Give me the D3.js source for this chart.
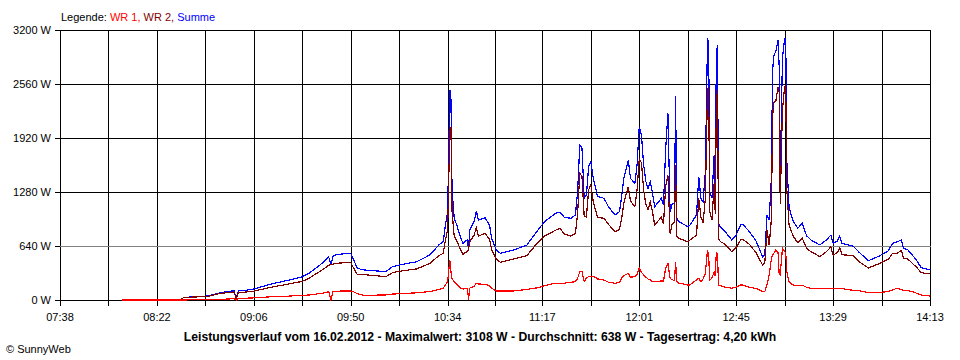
<!DOCTYPE html>
<html>
<head>
<meta charset="utf-8">
<script src="https://cdn.jsdelivr.net/npm/d3@7"></script>
<style>
  html, body { margin: 0; padding: 0; background: #ffffff; }
  svg { display: block; }
  text { font-family: "Liberation Sans", Arial, sans-serif; }
</style>
</head>
<body>
<svg id="chart" width="960" height="360"></svg>
<script>
// ---------- data ----------
const xTickLabels = ["07:38","08:22","09:06","09:50","10:34","11:17","12:01","12:45","13:29","14:13"];
const yTickValues = [0, 640, 1280, 1920, 2560, 3200];
const averageWatt = 638;
const legendItems = ["WR 1", "WR 2", "Summe"];
const captionText = "Leistungsverlauf vom 16.02.2012 - Maximalwert: 3108 W - Durchschnitt: 638 W - Tagesertrag: 4,20 kWh";

const times = [
 "08:06","08:33","08:34","08:37","08:45","08:51","08:57","08:58","08:59","09:01",
 "09:06","09:15","09:21","09:28","09:31","09:37","09:40","09:41","09:42","09:44",
 "09:50","09:51","09:53","09:56","10:06","10:09","10:12","10:20","10:26","10:30",
 "10:32","10:33","10:34","10:35","10:35:30","10:36","10:37","10:38","10:40","10:41",
 "10:42","10:43","10:43:30","10:44","10:46","10:47","10:48","10:51","10:53","10:54",
 "10:56","10:58","11:04","11:10","11:15","11:18","11:23","11:25","11:27","11:30",
 "11:32","11:33","11:34","11:35","11:36","11:37","11:38","11:39","11:40","11:41",
 "11:42","11:45","11:47","11:50","11:52","11:53","11:54","11:56","11:57","11:59",
 "12:00","12:01","12:02","12:03","12:04","12:05","12:06","12:07","12:08","12:11",
 "12:12","12:13","12:14","12:15","12:16","12:17","12:17:30","12:18","12:19","12:23",
 "12:24","12:27","12:28","12:29","12:30","12:31","12:32","12:32:30","12:33","12:34",
 "12:35","12:35:30","12:36","12:36:30","12:37","12:38","12:40","12:43","12:45","12:47",
 "12:48","12:51","12:54","12:57","12:58","12:59","13:00","13:01","13:01:30","13:02",
 "13:03","13:04","13:04:30","13:05","13:06","13:07","13:07:30","13:08","13:09","13:10",
 "13:11","13:13","13:15","13:17","13:19","13:23","13:26","13:28","13:29","13:31",
 "13:32","13:33","13:38","13:41","13:45","13:50","13:54","13:56","13:58","14:00",
 "14:01","14:03","14:05","14:07","14:09","14:13"
];
const summe = [
 10,10,27,35,47,87,110,15,110,110,
 130,197,230,276,316,435,510,420,525,541,
 553,494,375,356,336,395,415,454,535,652,
 691,889,1046,2489,2382,1300,968,900,731,672,
 700,711,600,830,928,1055,948,975,889,731,
 593,553,593,652,830,928,1027,1040,980,968,
 1007,1284,1837,1800,1205,1244,1580,1639,1460,1350,
 1230,1205,1106,1007,1046,1225,1442,1659,1442,1383,
 1600,2054,1955,1600,1402,1323,1402,1264,1106,1205,
 1126,1797,2212,1046,1146,1146,2418,968,930,869,
 889,1007,1461,1200,1165,1521,3101,3050,1284,1205,
 1718,1300,2900,3022,900,860,810,711,770,889,
 897,810,700,513,540,1007,948,1461,2686,2884,
 2950,3081,2785,1442,2868,3101,3101,1639,1106,1007,
 928,850,909,760,711,652,711,770,672,700,
 758,672,640,561,466,521,581,672,690,711,
 613,593,533,466,383,356
];
const wr1 = [
 0,0,0,2,5,8,15,0,20,20,
 25,40,45,55,59,80,99,0,100,105,
 107,100,75,55,60,70,75,85,100,126,
 138,178,217,474,336,250,217,190,140,130,
 135,138,0,140,160,197,190,186,170,140,
 107,107,107,125,146,170,200,190,200,210,
 217,257,336,336,217,260,276,276,276,270,
 250,237,210,198,209,260,290,316,270,276,
 300,383,330,296,270,249,240,217,217,225,
 225,380,435,257,240,230,454,217,200,178,
 178,240,257,217,250,316,593,533,237,260,
 336,280,573,533,178,170,150,140,150,178,
 178,150,138,99,99,180,300,494,533,550,
 593,560,316,300,612,573,560,336,217,190,
 178,170,175,150,138,138,138,140,140,138,
 138,135,115,110,87,90,99,120,138,125,
 115,110,99,80,59,47
];
const wr2 = [
 10,10,27,33,42,79,95,15,90,90,
 105,157,185,221,257,355,411,420,425,436,
 446,394,300,301,276,325,340,369,435,526,
 553,711,829,2015,2046,1050,751,710,591,542,
 565,573,600,690,768,858,758,789,719,591,
 486,446,486,527,684,758,827,850,780,758,
 790,1027,1501,1464,988,984,1304,1363,1184,1080,
 980,968,896,809,837,965,1152,1343,1172,1107,
 1300,1671,1625,1304,1132,1074,1162,1047,889,980,
 901,1350,1480,789,906,916,1600,751,730,691,
 711,767,1204,983,915,1205,2508,2517,1047,945,
 1382,1020,2327,2489,722,690,660,571,620,711,
 719,660,562,414,441,827,648,967,2153,2334,
 2357,2521,2469,1142,2256,2528,2541,1303,889,817,
 750,680,734,610,573,514,573,630,532,562,
 620,537,525,451,379,431,482,552,552,586,
 498,483,434,386,324,309
];

// ---------- helpers ----------
function toMinutes(s) {
  const p = s.split(":").map(Number);
  return p[0] * 60 + p[1] + (p.length > 2 ? p[2] / 60 : 0);
}

const svg = d3.select("#chart");
const plotLeft = 60, plotRight = 930, plotTop = 30, plotBottom = 300;

const x = d3.scaleLinear()
  .domain([toMinutes(xTickLabels[0]), toMinutes(xTickLabels[xTickLabels.length - 1])])
  .range([plotLeft, plotRight]);
const y = d3.scaleLinear().domain([0, 3200]).range([plotBottom, plotTop]);

// grid: labelled ticks plus midpoints between them
const labelMins = xTickLabels.map(toMinutes);
const gridMins = [];
labelMins.forEach((m, i) => {
  gridMins.push(m);
  if (i < labelMins.length - 1) gridMins.push((m + labelMins[i + 1]) / 2);
});

const grid = svg.append("g").attr("shape-rendering", "crispEdges");
grid.selectAll("line.v").data(gridMins).enter().append("line")
  .attr("x1", d => Math.round(x(d)) + 0.5).attr("x2", d => Math.round(x(d)) + 0.5)
  .attr("y1", plotTop).attr("y2", plotBottom + 6)
  .attr("stroke", "#000").attr("stroke-width", 1);
grid.selectAll("line.h").data(yTickValues).enter().append("line")
  .attr("x1", plotLeft - 5).attr("x2", plotRight + 1)
  .attr("y1", d => Math.round(y(d)) + 0.5).attr("y2", d => Math.round(y(d)) + 0.5)
  .attr("stroke", "#000").attr("stroke-width", 1);

// average line (gray)
grid.append("line")
  .attr("x1", plotLeft).attr("x2", plotRight + 1)
  .attr("y1", Math.round(y(averageWatt)) + 0.5).attr("y2", Math.round(y(averageWatt)) + 0.5)
  .attr("stroke", "#808080").attr("stroke-width", 1);

// y labels
svg.append("g").selectAll("text").data(yTickValues).enter().append("text")
  .attr("x", 51).attr("y", d => y(d) + 4)
  .attr("text-anchor", "end").attr("font-size", 11).attr("fill", "#000")
  .text(d => d + " W");

// x labels
svg.append("g").selectAll("text").data(xTickLabels).enter().append("text")
  .attr("x", d => x(toMinutes(d))).attr("y", 321)
  .attr("text-anchor", "middle").attr("font-size", 11).attr("fill", "#000")
  .text(d => d);

// series
const rows = times.map((t, i) => ({ t: toMinutes(t), s: summe[i], a: wr1[i], b: wr2[i] }));
const series = [
  { key: "s", color: "#0000ff" },
  { key: "b", color: "#800000" },
  { key: "a", color: "#ff0000" }
];
series.forEach(sr => {
  const line = d3.line().x(d => x(d.t)).y(d => y(d[sr.key]));
  svg.append("path").datum(rows)
    .attr("d", line).attr("fill", "none")
    .attr("stroke", sr.color).attr("stroke-width", 1.2)
    .attr("stroke-linejoin", "miter")
    .attr("shape-rendering", "crispEdges");
});

// legend
const legendColors = ["#ff0000", "#800000", "#0000ff"];
const leg = svg.append("text").attr("x", 61).attr("y", 21).attr("font-size", 11);
leg.append("tspan").attr("fill", "#000").text("Legende: ");
legendItems.forEach((item, i) => {
  leg.append("tspan").attr("fill", legendColors[i])
    .text(item + (i < legendItems.length - 1 ? ", " : ""));
});

// caption
const cap = svg.append("text").attr("x", 480).attr("y", 341)
  .attr("text-anchor", "middle").attr("font-size", 12).attr("font-weight", "bold")
  .attr("fill", "#000").text(captionText);
const w = cap.node().getComputedTextLength();
if (w > 0) cap.attr("font-size", 12 * 593 / w);

// copyright
svg.append("text").attr("x", 6).attr("y", 353).attr("font-size", 11).attr("fill", "#000")
  .text("© SunnyWeb");
</script>
</body>
</html>
